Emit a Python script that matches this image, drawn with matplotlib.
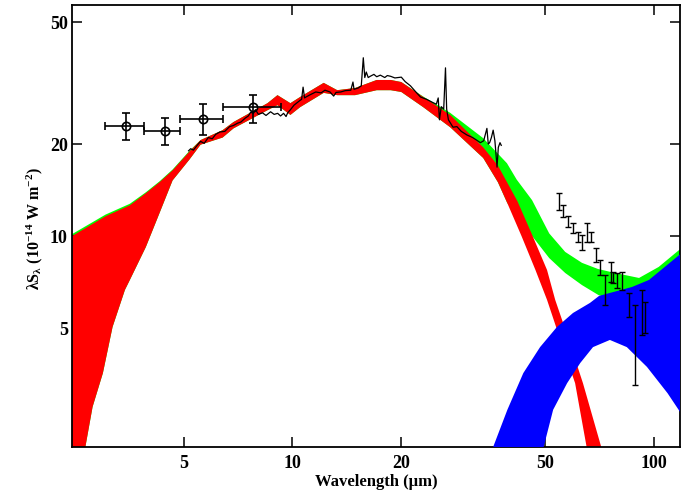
import numpy as np
import matplotlib.pyplot as plt
from matplotlib.ticker import FixedLocator, NullLocator, FixedFormatter

plt.rcParams['font.family'] = ['Liberation Serif', 'DejaVu Serif']
plt.rcParams['font.weight'] = 'bold'
plt.rcParams['mathtext.fontset'] = 'custom'
plt.rcParams['mathtext.rm'] = 'Liberation Serif:bold'
plt.rcParams['mathtext.it'] = 'Liberation Serif:bold'
plt.rcParams['mathtext.bf'] = 'Liberation Serif:bold'

# model band 1 (red): upper and lower edges
red_up_lam = [2.40, 2.46, 3.04, 3.55, 3.93, 4.29, 4.66, 5.19, 5.57, 6.41, 6.87, 8.53, 9.09,
              9.87, 10.5, 12.2, 13.3, 14.9, 17.1, 18.7, 20.0, 23.0, 27.3, 33.7, 37.0,
              41.9, 46.0, 50.6, 53.3, 57.0, 63.6, 71.8, 74.0]
red_up_F = [9.8, 10.0, 11.6, 12.6, 13.8, 15.0, 16.4, 18.9, 20.6, 22.2, 23.6, 27.2, 28.9,
            27.2, 28.5, 31.7, 30.0, 30.5, 32.4, 32.4, 31.9, 28.5, 24.9, 19.5, 17.0,
            13.0, 10.1, 7.74, 6.18, 4.9, 3.30, 2.0, 1.8]
red_lo_lam = [2.40, 2.62, 2.68, 2.80, 2.99, 3.18, 3.44, 3.55, 3.93, 4.29, 4.66, 5.19, 5.57,
              6.41, 6.87, 8.53, 9.09, 9.87, 10.5, 12.2, 13.3, 14.9, 17.1, 18.7, 20.0,
              23.0, 27.3, 33.7, 37.0, 39.3, 43.0, 47.0, 50.6, 55.0, 60.5, 65.3, 67.0]
red_lo_F = [1.8, 1.8, 2.07, 2.76, 3.56, 5.04, 6.66, 7.18, 9.2, 11.9, 15.2, 17.8, 19.9,
            21.0, 22.5, 25.8, 26.8, 24.9, 26.4, 29.4, 28.9, 28.9, 30.0, 30.0, 29.6,
            26.4, 22.7, 18.0, 15.0, 12.8, 10.0, 7.74, 6.18, 4.6, 3.30, 2.0, 1.8]

# total model (green)
grn_up_lam = [2.40, 2.46, 3.04, 3.55, 3.93, 4.29, 4.66, 5.19, 5.57, 6.41, 6.87, 8.53, 9.09,
              9.87, 10.5, 12.2, 13.3, 14.9, 17.1, 18.7, 20.0, 23.0, 27.3, 33.7, 39.2,
              41.7, 46.0, 51.3, 56.8, 63.2, 70.0, 78.0, 90.9, 103, 120]
grn_up_F = [9.95, 10.15, 11.75, 12.75, 13.9, 15.1, 16.5, 19.0, 20.6, 22.2, 23.6, 27.2, 28.9,
            27.2, 28.5, 31.7, 30.0, 30.5, 32.4, 32.4, 31.9, 28.6, 25.3, 20.9, 17.3,
            15.3, 13.1, 10.2, 8.87, 8.17, 7.8, 7.57, 7.29, 7.92, 9.2]
grn_lo_lam = [2.40, 2.62, 2.68, 2.80, 2.99, 3.18, 3.44, 3.55, 3.93, 4.29, 4.66, 5.19, 5.57,
              6.41, 6.87, 8.53, 9.09, 9.87, 10.5, 12.2, 13.3, 14.9, 17.1, 18.7, 20.0,
              23.0, 27.3, 33.7, 37.0, 39.3, 42.0, 44.0, 46.0, 51.3, 56.8, 63.2, 70.2,
              80.0, 95.0, 120]
grn_lo_F = [1.8, 1.8, 2.07, 2.76, 3.56, 5.04, 6.66, 7.18, 9.2, 11.9, 15.2, 17.8, 19.9,
            21.0, 22.5, 25.8, 26.8, 24.9, 26.4, 29.4, 28.9, 28.9, 30.0, 30.0, 29.6,
            26.4, 22.7, 18.0, 15.0, 12.8, 12.0, 11.0, 10.0, 8.47, 7.57, 6.91, 6.41,
            6.1, 6.4, 7.7]

# cold component (blue)
blu_up_lam = [35.0, 35.9, 39.3, 43.5, 48.4, 53.9, 59.7, 66.5, 70.5, 86.9, 96.8, 120]
blu_up_F = [1.85, 2.04, 2.70, 3.56, 4.33, 5.04, 5.60, 6.04, 6.37, 6.81, 7.18, 8.85]
blu_lo_lam = [48.5, 49.3, 52.6, 57.5, 62.5, 67.8, 75.5, 84.1, 95.6, 109, 120]
blu_lo_F = [1.85, 2.0, 2.70, 3.30, 3.84, 4.33, 4.57, 4.33, 3.73, 3.06, 2.58]

# IRS spectrum
spec_lam = [5.16, 5.23, 5.32, 5.45, 5.57, 5.7, 5.85, 6.0, 6.13, 6.3, 6.5, 6.7, 6.87, 7.05,
            7.2, 7.4, 7.55, 7.66, 7.8, 7.9, 8.05, 8.26, 8.45, 8.7, 8.9, 9.1, 9.27, 9.45,
            9.6, 9.7, 9.9, 10.1, 10.3, 10.5, 10.6, 10.7, 10.8, 10.9, 11.2, 11.6, 12.0,
            12.3, 12.7, 13.0, 13.2, 13.6, 14.0, 14.5, 14.7, 14.8, 15.2, 15.5, 15.7,
            15.85, 16.0, 16.2, 16.4, 16.8, 17.1, 17.5, 18.0, 18.3, 18.7, 19.2, 20.0,
            20.5, 21.2, 22.0, 22.6, 23.5, 24.5, 25.0, 25.3, 25.5, 25.8, 26.2, 26.5,
            26.7, 27.0, 27.8, 28.5, 29.3, 30.4, 31.5, 32.3, 33.1, 33.8, 34.5, 34.8,
            35.1, 35.5, 35.9, 36.3, 36.8, 37.1, 37.5, 37.8]
spec_F = [19.0, 19.3, 19.1, 19.8, 20.4, 20.1, 21.0, 20.8, 21.5, 21.9, 22.0, 22.8, 23.0, 23.4,
          23.6, 24.3, 24.7, 25.4, 25.2, 25.9, 25.0, 25.3, 24.8, 25.5, 25.0, 25.2, 24.7, 25.2,
          24.6, 25.3, 26.0, 26.8, 27.3, 27.8, 28.0, 30.7, 28.3, 28.5, 29.0, 29.6, 29.4,
          30.0, 29.6, 28.7, 29.5, 29.6, 29.9, 30.0, 31.9, 30.2, 30.5, 31.0, 38.3,
          33.0, 34.4, 33.0, 33.3, 33.8, 33.2, 33.6, 33.0, 33.5, 33.3, 32.9, 33.1,
          32.0, 31.0, 29.5, 28.5, 28.0, 27.3, 27.0, 28.3, 24.0, 26.5, 26.0, 35.5,
          26.0, 24.0, 22.7, 22.8, 22.0, 21.4, 21.0, 20.6, 20.2, 20.5, 22.5, 20.0,
          20.2, 21.0, 22.2, 20.5, 16.8, 19.5, 20.2, 19.8]

# IRAC photometry
irac_lam = [3.47, 4.43, 5.67, 7.77]
irac_F = [22.96, 22.1, 24.1, 26.4]
irac_lam_lo = [3.04, 3.88, 4.90, 6.41]
irac_lam_hi = [3.88, 4.90, 6.41, 9.27]
irac_F_lo = [20.6, 19.9, 21.4, 23.4]
irac_F_hi = [25.3, 24.3, 27.0, 28.9]

# far-IR SED points (top / bottom of bars)
sed_lam = [54.6, 56.1, 57.9, 59.7, 61.7, 63.2, 65.3, 67.0, 69.2, 70.9, 73.2, 76.1, 77.0,
           79.0, 81.6, 85.3, 88.6, 92.7, 94.4]
sed_top = [13.83, 12.63, 11.63, 11.03, 10.30, 10.08, 11.03, 10.30, 9.14, 8.35, 7.46, 8.22,
           7.62, 7.57, 7.62, 6.51, 5.95, 6.66, 6.08]
sed_bot = [12.17, 11.54, 10.70, 10.23, 9.56, 9.00, 9.56, 9.56, 8.22, 7.46, 5.95, 7.07,
           7.02, 6.76, 6.66, 5.43, 3.25, 4.74, 4.82]

fig = plt.figure(figsize=(6.82, 4.94), dpi=100)
ax = fig.add_axes([72/682, 47/494, 608/682, 442/494])
ax.set_xscale('log')
ax.set_yscale('log')

ax.fill(grn_up_lam + grn_lo_lam[::-1], grn_up_F + grn_lo_F[::-1],
        facecolor='#00ff00', edgecolor='none', zorder=1)
ax.fill(red_up_lam + red_lo_lam[::-1], red_up_F + red_lo_F[::-1],
        facecolor='#ff0000', edgecolor='none', zorder=2)
ax.fill(blu_up_lam + blu_lo_lam[::-1], blu_up_F + blu_lo_F[::-1],
        facecolor='#0000ff', edgecolor='none', zorder=3)

ax.plot(spec_lam, spec_F, color='black', lw=0.9, zorder=4)

irac_lam = np.array(irac_lam)
irac_F = np.array(irac_F)
xerr = [irac_lam - np.array(irac_lam_lo), np.array(irac_lam_hi) - irac_lam]
yerr = [irac_F - np.array(irac_F_lo), np.array(irac_F_hi) - irac_F]
ax.errorbar(irac_lam, irac_F, xerr=xerr, yerr=yerr, fmt='o', mfc='none', mec='black',
            ms=6, mew=1.2, ecolor='black', elinewidth=1.2, capsize=3, capthick=1.2, zorder=5)

sed_top = np.array(sed_top)
sed_bot = np.array(sed_bot)
sed_mid = np.sqrt(sed_top * sed_bot)
ax.errorbar(sed_lam, sed_mid, yerr=[sed_mid - sed_bot, sed_top - sed_mid], fmt='none',
            ecolor='black', elinewidth=1.0, capsize=2.5, capthick=1.0, zorder=5)

ax.set_xlim(2.456, 118)
ax.set_ylim(2.04, 57)

xt = [5, 10, 20, 50, 100]
yt = [5, 10, 20, 50]
ax.xaxis.set_major_locator(FixedLocator(xt))
ax.xaxis.set_major_formatter(FixedFormatter([str(v) for v in xt]))
ax.yaxis.set_major_locator(FixedLocator(yt))
ax.yaxis.set_major_formatter(FixedFormatter([str(v) for v in yt]))
ax.xaxis.set_minor_locator(NullLocator())
ax.yaxis.set_minor_locator(NullLocator())
ax.tick_params(which='major', direction='in', length=7, width=1.1, top=True, right=True,
               labelsize=13)
ax.tick_params(axis='x', pad=6)
ax.tick_params(axis='y', pad=3)
for s in ax.spines.values():
    s.set_linewidth(1.3)

ax.set_xlabel('Wavelength (μm)', fontsize=12, fontweight='bold', labelpad=1)
ax.set_ylabel(r'λS$_{λ}$ (10$^{-14}$ W m$^{-2}$)', fontsize=11.5, fontweight='bold')
ax.yaxis.set_label_coords(-0.045, 0.495)

fig.savefig('out.png', dpi=100)
